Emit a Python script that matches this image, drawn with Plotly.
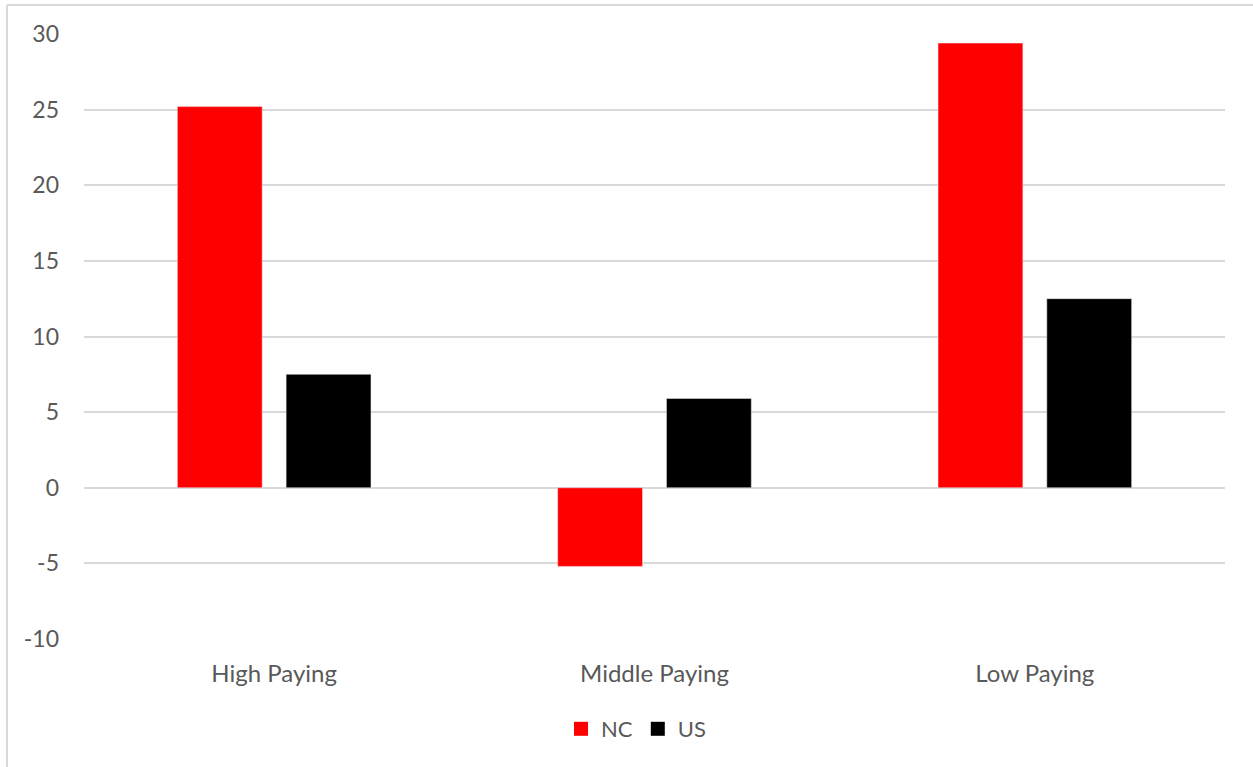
import plotly.graph_objects as go

categories = ["High Paying", "Middle Paying", "Low Paying"]
nc_values = [25.2, -5.2, 29.4]
us_values = [7.5, 5.9, 12.5]
y_ticks = [-10, -5, 0, 5, 10, 15, 20, 25, 30]
y_tick_text = ["-10", "-5", "0", "5", "10", "15", "20", "25", "30"]

W, H = 1253, 767
L, R, T, B = 84, 28, 34, 128
pw, ph = W - L - R, H - T - B

def px(x):
    return (x - L) / pw

def py(y):
    return (H - B - y) / ph

fig = go.Figure()
fig.add_trace(go.Bar(name="NC", x=categories, y=nc_values, marker_color="#ff0000", showlegend=False))
fig.add_trace(go.Bar(name="US", x=categories, y=us_values, marker_color="#000000", showlegend=False))
# legend entries with larger square markers
fig.add_trace(go.Scatter(name="NC", x=[None], y=[None], mode="markers",
                         marker=dict(symbol="square", size=14, color="#ff0000")))
fig.add_trace(go.Scatter(name="US", x=[None], y=[None], mode="markers",
                         marker=dict(symbol="square", size=14, color="#000000")))

font_family = "Lato"
fs = 23
fig.update_layout(
    width=W, height=H,
    margin=dict(l=L, r=R, t=T, b=B),
    paper_bgcolor="white", plot_bgcolor="white",
    barmode="group", bargap=0.428, bargroupgap=0.22,
    font=dict(family=font_family, size=fs, color="#595959"),
    showlegend=True,
    legend=dict(orientation="h", x=px(636), xanchor="center", y=py(729), yanchor="middle",
                font=dict(size=22, color="#595959"), itemwidth=30, traceorder="normal"),
    xaxis=dict(showgrid=False, showline=False, ticks="", ticklabelstandoff=18,
               tickfont=dict(size=24, color="#595959")),
    yaxis=dict(range=[-10, 30], tickvals=y_ticks, ticktext=y_tick_text, showgrid=True,
               gridcolor="#d9d9d9", gridwidth=1.5,
               zeroline=True, zerolinecolor="#d9d9d9", zerolinewidth=1.5, showline=False,
               ticks="", ticklabelstandoff=24, tickfont=dict(size=fs, color="#595959")),
    shapes=[
        dict(type="line", xref="paper", yref="paper", x0=px(7), x1=px(W + 5), y0=py(5), y1=py(5),
             line=dict(color="#d9d9d9", width=2)),
        dict(type="line", xref="paper", yref="paper", x0=px(7), x1=px(7), y0=py(5), y1=py(H + 5),
             line=dict(color="#d9d9d9", width=2)),
    ],
)

fig.write_html("out.html")
